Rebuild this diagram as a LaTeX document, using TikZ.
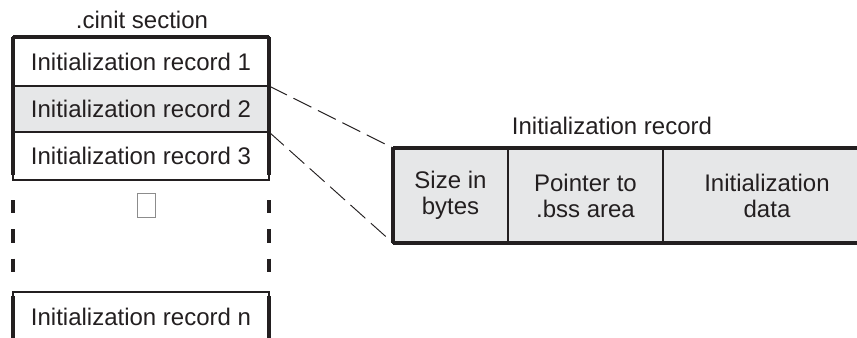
\documentclass[tikz,border=0pt]{standalone}
\usepackage{fontspec}
\setmainfont{Liberation Sans}
\usetikzlibrary{positioning}

\definecolor{inkgray}{RGB}{35,31,32}
\definecolor{cellgray}{RGB}{230,231,232}

\tikzset{every picture/.style={line width=0.75pt}}
\tikzset{
  labeltext/.style={inner sep=0.75pt, text=inkgray, font=\fontsize{18}{19.5}\selectfont},
  rowbox/.style={labeltext, draw=inkgray, line width=1.1pt, minimum width=192pt, outer sep=0pt},
  cellbox/.style={labeltext, draw=inkgray, fill=cellgray, line width=1.1pt, minimum height=71.25pt, outer sep=0pt, align=center},
  heavyline/.style={draw=inkgray, line width=2.3pt},
  linkline/.style={draw=inkgray, line width=0.7pt, dash pattern=on 15pt off 5.5pt}
}

\begin{document}
\begin{tikzpicture}[x=0.75pt,y=0.75pt,yscale=-1,xscale=1]
                  \useasboundingbox (0,0) rectangle (857,337); %set diagram size to the reference

                  %Shape: Rows of the .cinit section
                  \node (rec1) [rowbox, fill=white, minimum height=36.75pt] at (141,61.5) {Initialization record 1};
                  \node (rec2) [rowbox, fill=cellgray, minimum height=34.5pt] at (141,109) {Initialization record 2};
                  \node (rec3) [rowbox, fill=white, minimum height=36pt] at (141,156) {Initialization record 3};
                  \node (recn) [rowbox, fill=white, minimum height=37.5pt] at (141,317) {Initialization record n};
                  %Shape: Empty glyph box
                  \node (gap) [draw=black!45, line width=0.75pt, minimum width=13.5pt, minimum height=18pt, inner sep=0pt] at (146,205) {};

                  %Straight Lines: thick walls of the section
                  \draw [heavyline] (rec1.north west) -- (rec1.north east) ;
                  \draw [heavyline] (rec1.north west) -- ([yshift=-3.75pt]rec3.south west) ;
                  \draw [heavyline] (rec1.north east) -- ([yshift=-3.75pt]rec3.south east) ;
                  \draw [heavyline, dash pattern=on 10pt off 12pt] (13,200) -- (13,278) ;
                  \draw [heavyline, dash pattern=on 10pt off 12pt] (269,200) -- (269,278) ;
                  \draw [heavyline] ([yshift=3pt]recn.north west) -- (recn.south west) ;
                  \draw [heavyline] ([yshift=3pt]recn.north east) -- (recn.south east) ;

                  %Shape: Cells of one record
                  \node (size) [cellbox, minimum width=86.25pt] at (450.5,195.5) {Size in\\bytes};
                  \node (bss) [cellbox, minimum width=116.25pt, right=0pt of size] {Pointer to\\.bss area};
                  \node (data) [cellbox, minimum width=156pt, right=0pt of bss] {Initialization\\data};
                  \draw [heavyline] (size.north west) -- (data.north east) ;
                  \draw [heavyline] (size.south west) -- (data.south east) ;
                  \draw [heavyline] (size.north west) -- (size.south west) ;

                  %Straight Lines: zoom of record 2
                  \draw [linkline] (rec2.north east) -- (size.north west) ;
                  \draw [linkline] (rec2.south east) -- (size.south west) ;

                  % Text Node
                  \node (cinit) [labeltext] at (142,20) {.cinit section};
                  % Text Node
                  \node (record) [labeltext] at (612,126) {Initialization record};

              \end{tikzpicture}
\end{document}
